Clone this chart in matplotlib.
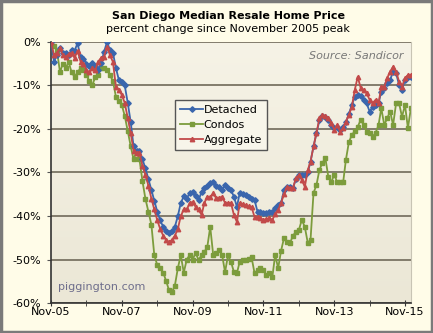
import matplotlib.pyplot as plt
import matplotlib.colors as mcolors
import numpy as np
import pandas as pd

# monthly % change since Nov 2005 peak
months = pd.date_range('2005-11-01', periods=123, freq='MS')

detached = [0, -4.5, -3, -1.4, -2.5, -2.5, -3, -1.8, -2, -0.3,
            -3.5, -4, -5, -5.5, -4.9, -5.5, -6.4, -4.9, -2.3, 0,
            -1.8, -2.5, -6, -8.7, -9.2, -10, -14, -18.5, -24, -25,
            -25, -27, -29, -31.5, -34, -36.5, -39, -41, -42.5, -43.5,
            -44, -43.5, -42.5, -40, -37, -35.5, -36, -34.7, -34.5, -35.5,
            -36.3, -34.5, -33.6, -33, -32.5, -32.2, -33, -33.3, -34, -32.9,
            -33.5, -34, -35.6, -37.9, -34.7, -35, -35.2, -35.6, -36, -36.3,
            -39, -39, -39.3, -39.2, -39, -39, -38.2, -37.5, -37, -34,
            -33.3, -33.3, -33.6, -31.5, -30.6, -30.5, -30.5, -30, -27.5, -24,
            -21, -18, -17, -17.2, -17.9, -19, -19.8, -19.5, -20.2, -19.5,
            -18.5, -16.5, -14.5, -12.6, -12.2, -12.5, -13.3, -14.1, -16, -14.9,
            -14.5, -14.1, -11.4, -10.6, -9.5, -8.7, -6.8, -7.2, -9.9, -11,
            -8.7, -8, -8]

condos = [0, -1, -2, -7, -5, -6, -4.6, -7, -8, -7,
          -6, -6.5, -7.6, -9, -9.9, -8, -7.6, -6, -6, -6.4,
          -7.6, -9, -12.6, -13.5, -14.5, -17, -20.5, -24, -27, -25,
          -27, -32, -36, -39, -42, -49, -51.3, -52, -53, -55,
          -57, -57.5, -56, -52, -49, -53, -50, -49, -50, -48.5,
          -50.1, -49, -48.3, -47.1, -42.5, -49, -48.5, -47.8, -49, -52.9,
          -49, -50.5, -52.9, -53.1, -50.5, -50.1, -50.1, -49.8, -49.4, -53.1,
          -52.5, -52, -52.4, -53.6, -53, -54, -49, -52, -48, -45,
          -46, -46.2, -44.5, -43.7, -43.2, -40.9, -42.5, -46.2, -45.5, -34.7,
          -32.9, -29.4, -27.8, -26.7, -31, -32.2, -30.5, -32.2, -32.2, -32.2,
          -27.1, -23, -21.4, -20.5, -19.5, -17.9, -19.1, -20.6, -20.9, -21.8,
          -20.9, -19.1, -15.2, -19.1, -17.5, -16, -19.1, -14.1, -14.1, -17.2,
          -14.5, -19.8, -15.2]

aggregate = [0, -3, -2.5, -1.4, -3, -3.4, -2.8, -2.5, -3.7, -2,
             -4.5, -5, -6.5, -7, -6, -6.4, -4.5, -3.7, -3.4, -1.1,
             -3, -4.6, -10.3, -11, -12.2, -14, -17.5, -21, -25, -25.5,
             -25.5, -28.5, -30.5, -33, -36, -38.5, -41, -43, -44.5, -45.5,
             -46, -45.5, -44.5, -43, -40, -38.5, -38.5, -37, -36.8, -37.9,
             -38.5, -39.8, -37, -35.6, -35.6, -34.8, -35.9, -35.8, -35.6, -37,
             -37, -37, -39.8, -41.4, -37, -37.3, -37.5, -37.8, -37.9, -40.2,
             -40.3, -40.5, -40.9, -40.7, -40.5, -40.9, -39.5, -38.6, -37, -35,
             -33.3, -33.5, -33.6, -31.3, -30.6, -31.7, -33.3, -29.4, -27.5, -24,
             -21, -17.5, -16.8, -17, -17.5, -18.6, -20.2, -19.1, -20.6, -19.8,
             -18.3, -16.8, -14.9, -11, -8, -10.6, -11, -11.8, -13.3, -14.1,
             -13.3, -14.1, -10.3, -10.3, -8.3, -6.8, -5.7, -6.8, -9.1, -10.3,
             -8.3, -7.6, -7.6]

tick_dates = pd.to_datetime(['2005-11-01', '2007-11-01', '2009-11-01',
                             '2011-11-01', '2013-11-01', '2015-11-01'])
tick_labels = ['Nov-05', 'Nov-07', 'Nov-09', 'Nov-11', 'Nov-13', 'Nov-15']
minor_dates = pd.to_datetime(['2006-11-01', '2008-11-01', '2010-11-01',
                              '2012-11-01', '2014-11-01'])

fig = plt.figure(figsize=(4.33, 3.33), dpi=100, facecolor='#fffce8')
ax = fig.add_axes([0.118, 0.09, 0.831, 0.784])

# beige gradient plot area
grad = np.linspace(0, 1, 256).reshape(-1, 1)
ax.imshow(grad, extent=[0, 1, 0, 1], transform=ax.transAxes, aspect='auto',
          cmap=mcolors.LinearSegmentedColormap.from_list(
              'bg', ['#f6f3e6', '#ebe7d6']), zorder=0)

ax.plot(months, detached, color='#3a66ad', marker='D', ms=2.8, lw=1.3,
        label='Detached', zorder=3)
ax.plot(months, condos, color='#7c9c3c', marker='s', ms=2.8, lw=1.3,
        label='Condos', zorder=2)
ax.plot(months, aggregate, color='#c24a4a', marker='^', ms=3.2, lw=1.3,
        label='Aggregate', zorder=4)

ax.set_ylim(-60, 0)
ax.set_xlim(months[0], months[-1])
ax.set_yticks(range(-60, 1, 10))
ax.set_yticklabels([f'{v}%' for v in range(-60, 1, 10)])
ax.yaxis.grid(True, color='#827c6c', lw=1.4)
ax.set_axisbelow(True)

ax.set_xticks(tick_dates)
ax.set_xticklabels(tick_labels)
ax.set_xticks(minor_dates, minor=True)
ax.tick_params(axis='x', which='both', direction='inout', length=5,
               color='#333333', labelsize=8, pad=0)
ax.tick_params(axis='y', direction='out', length=3, color='#555555',
               labelsize=8, pad=4)

for s in ['left', 'bottom']:
    ax.spines[s].set_color('#333333')
    ax.spines[s].set_linewidth(1.2)
ax.spines['right'].set_color('#c8c4b4')
ax.spines['top'].set_visible(False)

leg = ax.legend(loc='upper left', bbox_to_anchor=(0.33, 0.80), fontsize=8,
                handlelength=2.0, handletextpad=0.1, borderpad=0.45,
                labelspacing=0.45, fancybox=False, framealpha=1,
                edgecolor='#555555', facecolor='#f7f5ea')
leg.get_frame().set_linewidth(1.0)

fig.text(0.527, 0.952, 'San Diego Median Resale Home Price', ha='center',
         va='center', fontsize=8, fontweight='bold')
fig.text(0.527, 0.912, 'percent change since November 2005 peak',
         ha='center', va='center', fontsize=8)
ax.text(0.98, 0.945, 'Source: Sandicor', transform=ax.transAxes, ha='right',
        va='center', fontsize=8, style='italic', color='#777777')
ax.text(0.02, 0.06, 'piggington.com', transform=ax.transAxes, ha='left',
        va='center', fontsize=8, color='#6e6e8c')

# outer frame
fig.patches.append(plt.Rectangle((0.003, 0.004), 0.994, 0.992,
                                 transform=fig.transFigure, fill=False,
                                 edgecolor='#7a7a7a', lw=2.5))

fig.savefig('out.png', dpi=100, facecolor=fig.get_facecolor())
